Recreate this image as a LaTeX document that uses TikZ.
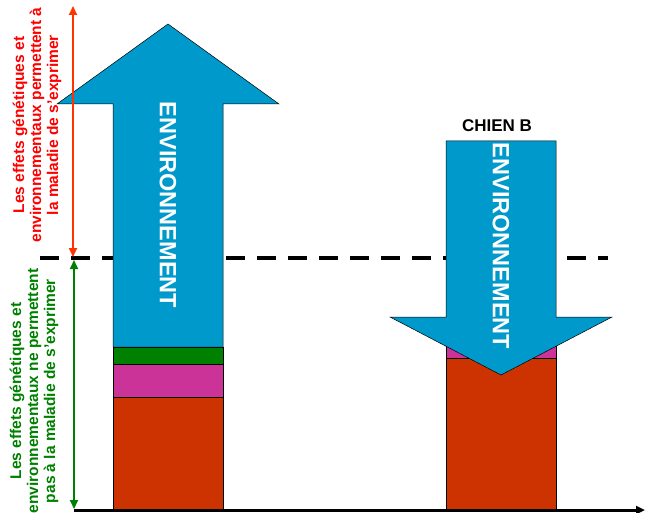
\documentclass[tikz,border=0pt]{standalone}
\usepackage{fontspec}
\setmainfont{Liberation Sans}
\usetikzlibrary{arrows.meta}
\definecolor{envblue}{RGB}{0,153,204}
\definecolor{genegreen}{RGB}{0,128,0}
\definecolor{genepink}{RGB}{204,51,153}
\definecolor{genered}{RGB}{204,51,0}
\definecolor{arrowred}{RGB}{255,51,0}

\begin{document}
\begin{tikzpicture}[%
    x=1pt,
    y=-1pt,
    >={Triangle[length=9pt,width=8pt]},
    seg/.style={%
      draw=black,
      line width=0.6pt
    },
    envarrow/.style={%
      fill=envblue,
      draw=black,
      line width=0.5pt
    },
    envtext/.style={%
      text=white,
      rotate=-90,
      font=\bfseries\fontsize{23.5}{24}\selectfont
    },
    sidetext/.style={%
      align=center,
      rotate=90,
      font=\bfseries\fontsize{15.5}{17}\selectfont
    }
  ]
    \useasboundingbox (0,0) rectangle (645,513);

    % chien A
    \filldraw[seg,fill=genered]   (113,397) rectangle (223,509);
    \filldraw[seg,fill=genepink]  (113,364) rectangle (223,397);
    \filldraw[seg,fill=genegreen] (113,347) rectangle (223,364);
    % chien B
    \filldraw[seg,fill=genered]   (446,358) rectangle (556,509);
    \filldraw[seg,fill=genepink]  (446,340) rectangle (556,358);

    \coordinate (seuilG) at (40,258);
    \coordinate (seuilD) at (608,258);
    \draw[line width=3.5pt,dash pattern=on 19pt off 12pt] (seuilG) -- (seuilD);

    \filldraw[envarrow] (113,347) -- (113,104) -- (57,104) -- (168,24)
      -- (279,104) -- (223,104) -- (223,347) -- cycle;
    \filldraw[envarrow] (446,141) -- (556,141) -- (556,317) -- (612,317)
      -- (501,375) -- (390,317) -- (446,317) -- cycle;

    \node[envtext] (envA) at (168,205) {ENVIRONNEMENT};
    \node[envtext] (envB) at (501,246) {ENVIRONNEMENT};
    \node[font=\bfseries\fontsize{17}{17}\selectfont] (chienB) at (497,126) {CHIEN B};

    \coordinate (origine) at (74,510);
    \coordinate (fin) at (645,510);
    \draw[line width=3pt,-{Triangle[length=9pt,width=8pt]}] (origine) -- (fin);

    \coordinate (rhaut) at (73,6);
    \coordinate (rbas) at (73,257);
    \coordinate (vhaut) at (74,260);
    \coordinate (vbas) at (74,509);
    \draw[arrowred,line width=2pt,<->] (rhaut) -- (rbas);
    \draw[genegreen,line width=2pt,<->] (vhaut) -- (vbas);

    \node[sidetext,text=red] (txtA) at (37,125)
      {Les effets génétiques et\\environnementaux  permettent à\\la maladie de s'exprimer};
    \node[sidetext,text=genegreen] (txtB) at (34,391)
      {Les effets génétiques et\\environnementaux ne permettent\\pas à la maladie de s'exprimer};
  \end{tikzpicture}
\end{document}
